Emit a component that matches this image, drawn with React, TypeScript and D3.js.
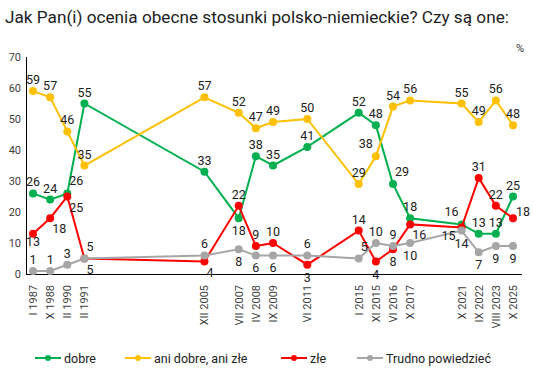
import React from "react";
import * as d3 from "d3";

const categories = [
  "I 1987", "X 1988", "II 1990", "II 1991", "", "", "", "", "", "",
  "XII 2005", "", "VII 2007", "IV 2008", "IX 2009", "", "VI 2011", "", "",
  "I 2015", "XI 2015", "VI 2016", "X 2017", "", "", "X 2021", "IX 2022", "VIII 2023", "X 2025",
];
const surveyLabels = [
  "I 1987", "X 1988", "II 1990", "II 1991", "XII 2005", "VII 2007", "IV 2008", "IX 2009",
  "VI 2011", "I 2015", "XI 2015", "VI 2016", "X 2017", "X 2021", "IX 2022", "VIII 2023", "X 2025",
];
const dobre = [26, 24, 26, 55, 33, 18, 38, 35, 41, 52, 48, 29, 18, 16, 13, 13, 25];
const aniAni = [59, 57, 46, 35, 57, 52, 47, 49, 50, 29, 38, 54, 56, 55, 49, 56, 48];
const zle = [13, 18, 25, 5, 4, 22, 9, 10, 3, 14, 4, 8, 16, 15, 31, 22, 18];
const trudno = [1, 1, 3, 5, 6, 8, 6, 6, 6, 5, 10, 9, 10, 14, 7, 9, 9];
const yTicks = [0, 10, 20, 30, 40, 50, 60, 70];

// label placement codes: a=above, b=below, b2=just below, ar=above-right, br=below-right, al=above-left, l=left, r=right
const dobrePos = ["a", "a", "ar", "a", "a", "b", "a", "a", "a", "a", "a", "ar", "a", "al", "a", "a", "a"];
const aniPos = ["a", "a", "a", "a", "a", "a", "a", "a", "a", "a", "al", "a", "a", "a", "a", "a", "a"];
const zlePos = ["b2", "br", "br", "br", "br", "a", "a", "a", "b", "a", "b", "b", "br", "l", "a", "a", "r"];
const trudnoPos = ["a", "a", "a", "ar", "a", "b", "b", "b", "a", "ar", "a", "a", "b", "b", "b", "b", "b"];

const series = [
  { name: "dobre", values: dobre, pos: dobrePos, color: "#00b050" },
  { name: "ani dobre, ani złe", values: aniAni, pos: aniPos, color: "#ffc000" },
  { name: "złe", values: zle, pos: zlePos, color: "#ff0000" },
  { name: "Trudno powiedzieć", values: trudno, pos: trudnoPos, color: "#a6a6a6" },
];

const W = 534;
const H = 378;
const FONT = "Roboto, 'Noto Sans', sans-serif";

export default function App() {
  const x = d3
    .scalePoint<number>()
    .domain(categories.map((_, i) => i))
    .range([33, 513]);
  const y = d3.scaleLinear().domain([0, 70]).range([274, 57]);
  const idx = surveyLabels.map((l) => categories.indexOf(l));

  const line = d3
    .line<number>()
    .x((_, i) => x(idx[i]) as number)
    .y((d) => y(d));

  const off = (p: string) => {
    switch (p) {
      case "a": return { dx: 0, dy: -7, anchor: "middle" };
      case "b": return { dx: 0, dy: 17, anchor: "middle" };
      case "b2": return { dx: 0, dy: 12, anchor: "middle" };
      case "ar": return { dx: 2, dy: -8, anchor: "start" };
      case "al": return { dx: -3, dy: -8, anchor: "end" };
      case "br": return { dx: 2, dy: 15, anchor: "start" };
      case "l": return { dx: -6, dy: 12, anchor: "end" };
      case "r": return { dx: 3, dy: -2, anchor: "start" };
      default: return { dx: 0, dy: -7, anchor: "middle" };
    }
  };

  const legendX = [35, 125, 281, 357];

  return (
    <svg width={W} height={H} style={{ display: "block", position: "absolute", left: 0, top: 0 }} fontFamily={FONT}>
      <rect width={W} height={H} fill="#fff" />
      <text x={5} y={23} fontSize={17.2} fill="#222">
        Jak Pan(i) ocenia obecne stosunki polsko-niemieckie? Czy są one:
      </text>
      <text x={524} y={52} fontSize={11} fill="#333" textAnchor="end">%</text>

      {yTicks.map((t) => (
        <text key={t} x={21} y={y(t) + 4} fontSize={11} fill="#404040" textAnchor="end">
          {t}
        </text>
      ))}
      <line x1={26.5} x2={26.5} y1={57} y2={274} stroke="#000" strokeWidth={1} />
      <line x1={26} x2={522} y1={274.5} y2={274.5} stroke="#000" strokeWidth={1} />

      {categories.map((c, i) =>
        c ? (
          <text
            key={i}
            transform={`translate(${(x(i) as number) + 4},285) rotate(-90)`}
            fontSize={11}
            fill="#404040"
            textAnchor="end"
          >
            {c}
          </text>
        ) : null
      )}

      {series.map((s) => (
        <g key={s.name}>
          <path d={line(s.values) || ""} fill="none" stroke={s.color} strokeWidth={2} />
          {s.values.map((v, i) => (
            <circle key={i} cx={x(idx[i]) as number} cy={y(v)} r={4} fill={s.color} />
          ))}
        </g>
      ))}
      {series.map((s) => (
        <g key={s.name + "l"}>
          {s.values.map((v, i) => {
            const o = off(s.pos[i]);
            return (
              <text
                key={i}
                x={(x(idx[i]) as number) + o.dx}
                y={y(v) + o.dy}
                fontSize={12.5}
                fill="#222"
                textAnchor={o.anchor}
              >
                {v}
              </text>
            );
          })}
        </g>
      ))}

      {series.map((s, i) => (
        <g key={s.name + "leg"} transform={`translate(${legendX[i]},358)`}>
          <line x1={0} x2={26} y1={0} y2={0} stroke={s.color} strokeWidth={2} />
          <circle cx={13} cy={0} r={3} fill={s.color} />
          <text x={29} y={4.5} fontSize={12.5} fill="#222">{s.name}</text>
        </g>
      ))}
    </svg>
  );
}
